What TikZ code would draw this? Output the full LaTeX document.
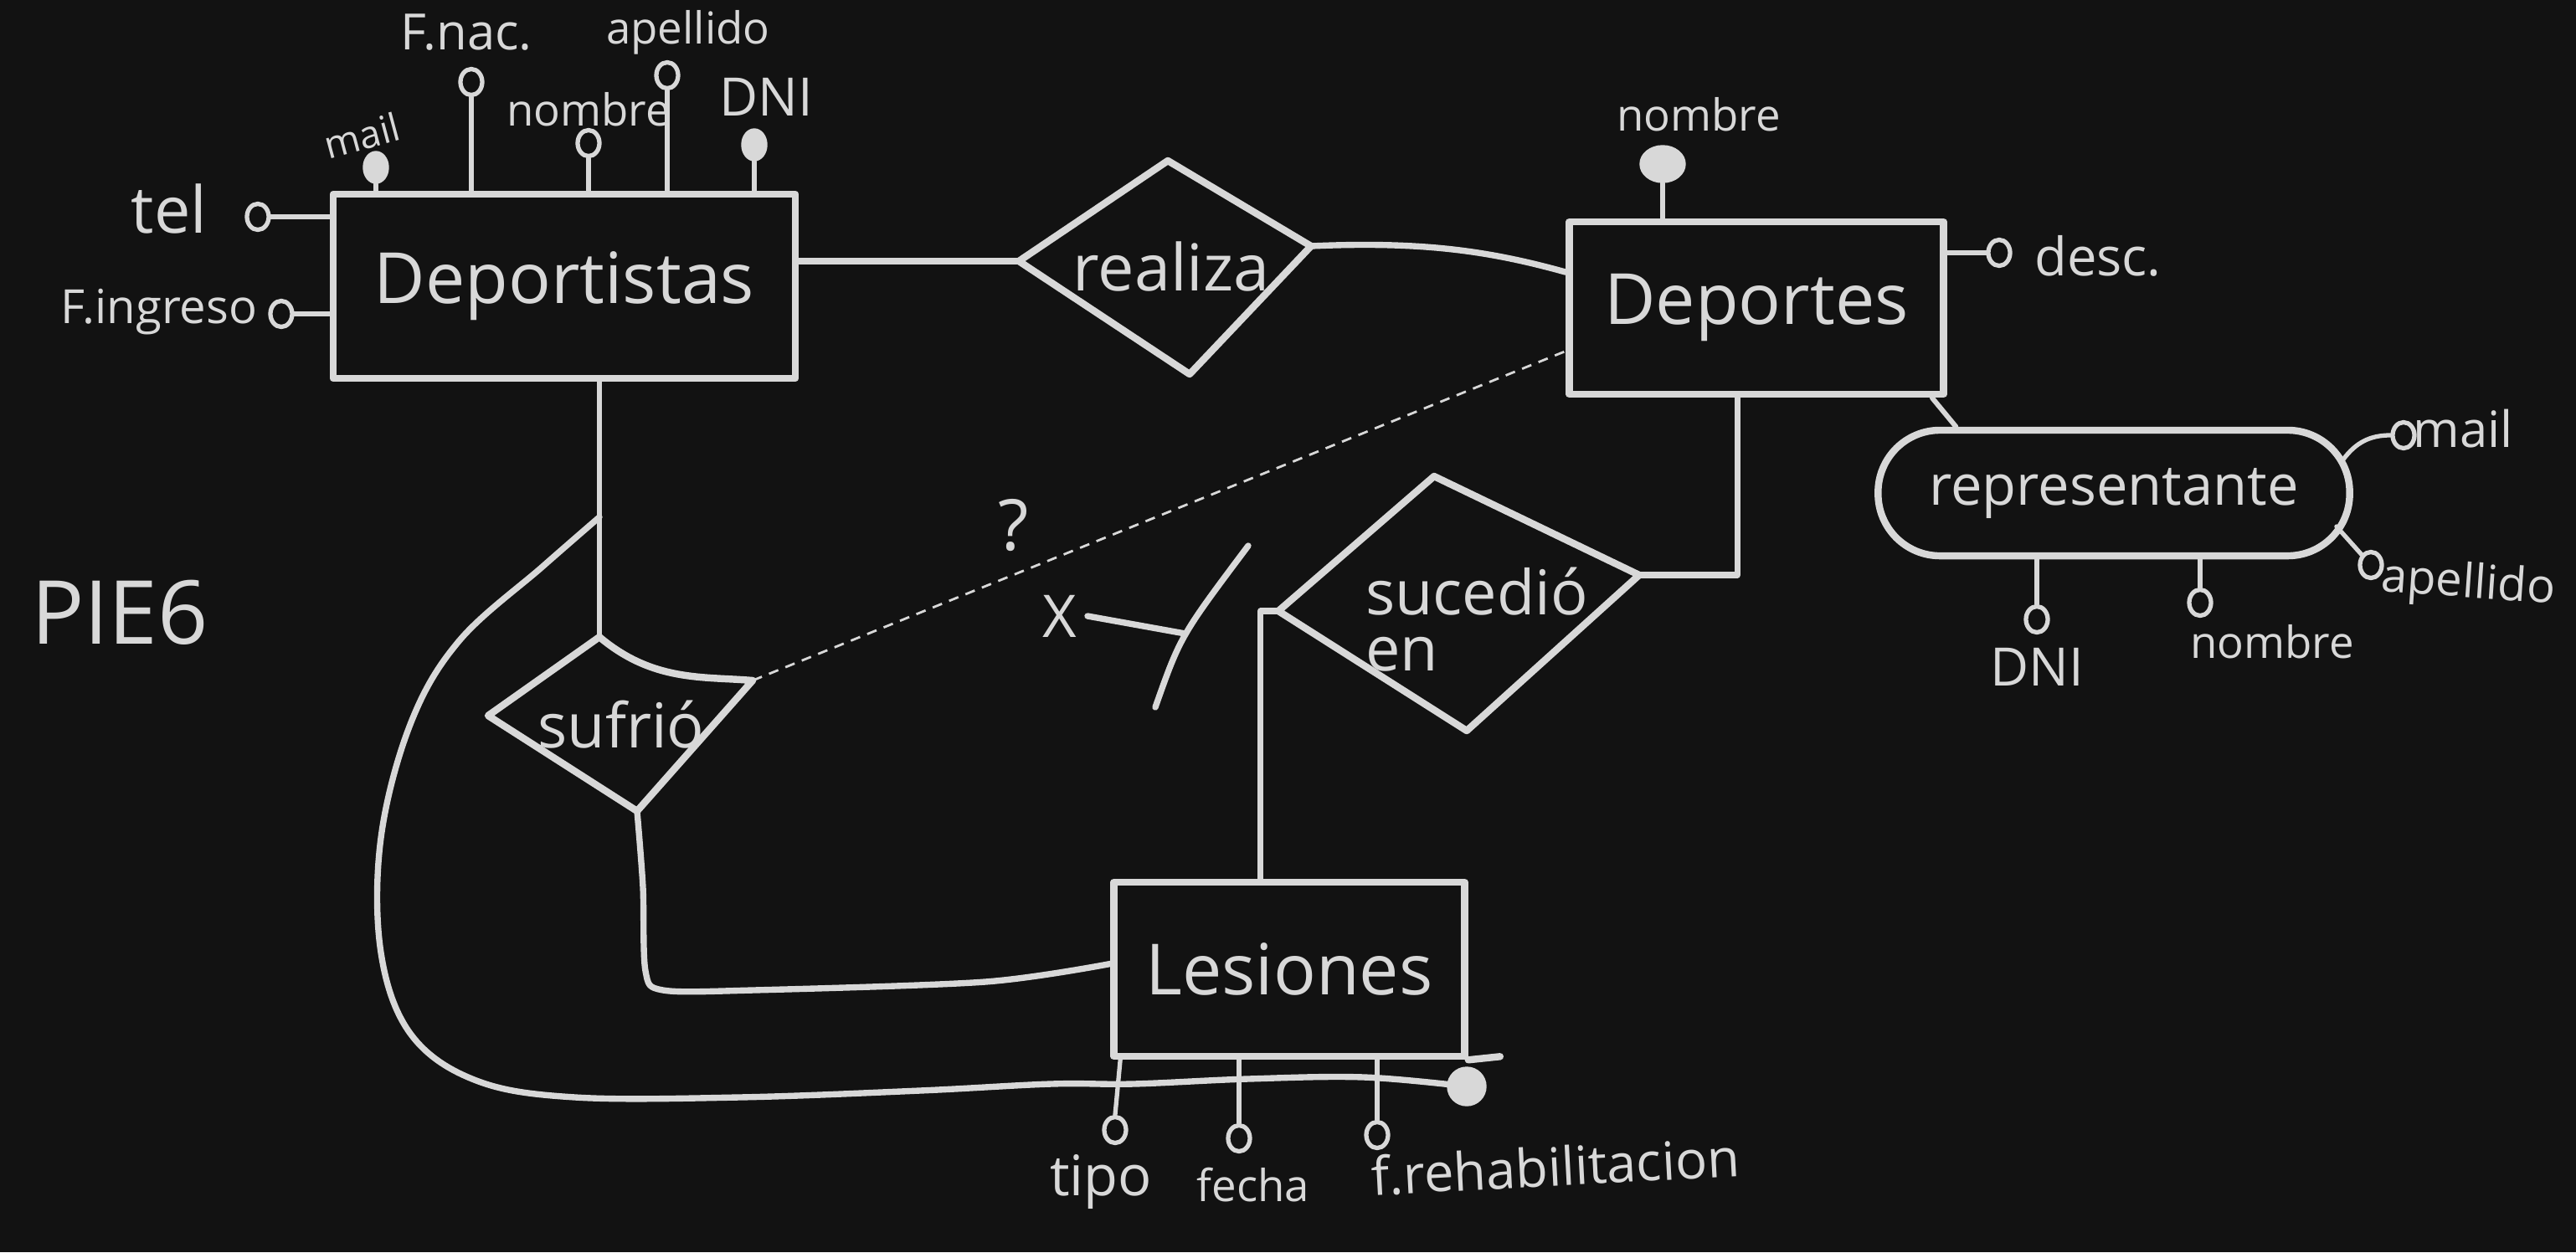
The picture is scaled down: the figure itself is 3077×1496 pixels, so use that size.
\documentclass[tikz,border=0pt]{standalone}
\usepackage{fontspec}
\setmainfont{Open Sans}
\usetikzlibrary{calc,shapes.geometric}
\definecolor{bgc}{HTML}{121212}
\definecolor{chalk}{HTML}{D8D8D8}
\newcommand\setfs[1]{\fontsize{#1}{#1}\selectfont}
\begin{document}
\begin{tikzpicture}[x=0.01cm,y=-0.01cm,
  boxline/.style={draw=chalk,line width=2.4pt,line cap=round,line join=round},
  conn/.style={draw=chalk,line width=2.1pt,line cap=round,line join=round},
  stem/.style={draw=chalk,line width=1.5pt,line cap=round},
  dashline/.style={draw=chalk,line width=0.8pt,dash pattern=on 3.4pt off 2.6pt},
  entity/.style={boxline,rectangle,inner sep=0pt,text=chalk,font=\setfs{24}},
  lbl/.style={text=chalk,inner sep=0pt},
  opencirc/.style={draw=chalk,line width=1.5pt,ellipse,minimum width=0.26cm,minimum height=0.31cm,inner sep=0pt},
  filledcirc/.style={draw=chalk,fill=chalk,ellipse,minimum width=0.3cm,minimum height=0.38cm,inner sep=0pt}]

\fill[bgc] (0,0) rectangle (3077,1496);
\useasboundingbox (0,0) rectangle (3077,1496);

% ---------- entities ----------
\node[entity,minimum width=5.52cm,minimum height=2.2cm] (dep) at (674,342) {Deportistas};
\node[entity,minimum width=4.47cm,minimum height=2.06cm] (dpt) at (2098,368) {Deportes};
\node[entity,minimum width=4.19cm,minimum height=2.08cm] (les) at (1540,1158) {Lesiones};
\node[boxline,rectangle,rounded corners=0.74cm,minimum width=5.63cm,minimum height=1.5cm,inner sep=0pt,text=chalk,font=\setfs{19}] (rep) at (2525,589) {representante};

% ---------- relationships ----------
\coordinate (rl) at (1217,312);
\coordinate (rt) at (1395,192);
\coordinate (rr) at (1566,294);
\coordinate (rb) at (1421,447);
\draw[boxline] (rl) -- (rt) -- (rr) -- (rb) -- cycle;
\node[lbl,font=\setfs{22}] (realiza) at (1399,318) {realiza};

\coordinate (sl) at (583,855);
\coordinate (st) at (716,761);
\coordinate (sr) at (899,813);
\coordinate (sb) at (761,969);
\draw[boxline] (sl) -- (st) .. controls (780,815) and (840,808) .. (sr) -- (sb) -- cycle;
\node[lbl,font=\setfs{21}] (sufrio) at (742,866) {sufrió};

\coordinate (cl) at (1527,730);
\coordinate (ct) at (1713,569);
\coordinate (cr) at (1958,687);
\coordinate (cb) at (1752,873);
\draw[boxline] (cl) -- (ct) -- (cr) -- (cb) -- cycle;
\node[lbl,font=\fontsize{21}{19}\selectfont,align=left] (sucedio) at (1764,740) {sucedió\\en};

% ---------- connectors ----------
\draw[conn] (dep.east |- rl) -- (rl);
\coordinate (dptW) at ($(dpt.north west)!0.3!(dpt.south west)$);
\draw[conn] (rr) .. controls (1700,288) and (1780,300) .. (dptW);

\coordinate (dptW2) at ($(dpt.north west)!0.74!(dpt.south west)$);
\draw[dashline] (sr) -- (dptW2);
\node[lbl,font=\setfs{24}] (quest) at (1211,628) {?};

\draw[stem,line width=1.7pt] (st |- dep.south) -- (st);
\coordinate (cs) at ($(st |- dep.south)!0.53!(st)$);

\node[filledcirc,minimum width=0.46cm,minimum height=0.46cm] (lesblob) at (1752,1298) {};
\draw[conn] plot[smooth,tension=0.6] coordinates {(cs) (648,677) (549,765) (491,863) (455,1001) (455,1138) (491,1236) (569,1291) (687,1311) (883,1311) (1099,1303) (1256,1295) (1354,1295) (1491,1289) (1629,1287) (lesblob)};

\coordinate (lesW) at ($(les.north west)!0.47!(les.south west)$);
\draw[conn] plot[smooth,tension=0.5] coordinates {(sb) (768,1060) (771,1160) (792,1183) (900,1183) (1177,1173) (lesW)};

\coordinate (lesT) at ($(les.north west)!0.42!(les.north east)$);
\draw[conn] (lesT) -- (lesT |- cl) -- (cl);

\coordinate (dptS) at ($(dpt.south west)!0.45!(dpt.south east)$);
\draw[conn] (cr) -- (dptS |- cr) -- (dptS);

\coordinate (lesext) at ($(les.south east)+(38,-4)$);
\draw[boxline] (les.south east) -- (lesext);

% X mark
\node[lbl,font=\setfs{20}] (xl) at (1266,736) {X};
\coordinate (xa) at (1491,652);
\coordinate (xb) at (1380,845);
\draw[conn] (xa) .. controls (1410,760) .. (xb) coordinate[pos=0.5] (xm);
\draw[conn] (xl.east) ++(12,0) coordinate (xs) (xs) -- (xm);

% title
\node[lbl,font=\setfs{30}] (title) at (143,732) {PIE6};

% ---------- Deportistas attributes ----------
\node[filledcirc] (dmail) at (449,200) {};
\draw[stem] (dmail) -- (dmail |- dep.north);
\node[lbl,font=\setfs{13},rotate=15] (dmailt) at (432,162) {mail};

\node[opencirc] (dfnac) at (563,98) {};
\draw[stem] (dfnac.south) -- (dfnac |- dep.north);
\node[lbl,font=\setfs{17}] (dfnact) at (557,39) {F.nac.};

\node[opencirc] (dnom) at (703,171) {};
\draw[stem] (dnom.south) -- (dnom |- dep.north);
\node[lbl,font=\setfs{15}] (dnomt) at (703,131) {nombre};

\node[opencirc] (dape) at (797,90) {};
\draw[stem] (dape.south) -- (dape |- dep.north);
\node[lbl,font=\setfs{15}] (dapet) at (822,39) {apellido};

\node[filledcirc] (ddni) at (901,173) {};
\draw[stem] (ddni) -- (ddni |- dep.north);
\node[lbl,font=\setfs{18}] (ddnit) at (915,116) {DNI};

\node[opencirc] (dtel) at (308,259) {};
\draw[stem] (dtel.east) -- (dtel -| dep.west);
\node[lbl,font=\setfs{22}] (dtelt) at (202,249) {tel};

\node[opencirc] (ding) at (336,375) {};
\draw[stem] (ding.east) -- (ding -| dep.west);
\node[lbl,font=\setfs{16}] (dingt) at (190,373) {F.ingreso};

% ---------- Deportes attributes ----------
\node[filledcirc,minimum width=0.54cm,minimum height=0.44cm] (pnom) at (1986,196) {};
\draw[stem] (pnom) -- (pnom |- dpt.north);
\node[lbl,font=\setfs{15}] (pnomt) at (2029,137) {nombre};

\node[opencirc] (pdesc) at (2388,302) {};
\draw[stem] (pdesc.west) -- (pdesc -| dpt.east);
\node[lbl,font=\setfs{18}] (pdesct) at (2506,306) {desc.};

\coordinate (dptSE) at ($(dpt.south east)+(-18,0)$);
\coordinate (repNW) at ($(rep.north west)!0.17!(rep.north east)$);
\draw[stem,line width=1.7pt] (dptSE) -- (repNW);

% ---------- representante attributes ----------
\node[opencirc] (rmail) at (2871,520) {};
\coordinate (repE1) at ($(rep.east)+(-12,-40)$);
\draw[stem] (repE1) .. controls +(15,-20) and +(-25,0) .. (rmail.west);
\node[lbl,font=\setfs{17}] (rmailt) at (2942,512) {mail};

\node[opencirc] (rape) at (2832,675) {};
\coordinate (repE2) at ($(rep.east)+(-20,40)$);
\draw[stem] (repE2) -- (rape);
\node[lbl,font=\setfs{16},rotate=-4] (rapet) at (2948,699) {apellido};

\node[opencirc] (rdni) at (2433,740) {};
\draw[stem] (rdni.north) -- (rdni |- rep.south);
\node[lbl,font=\setfs{18}] (rdnit) at (2433,797) {DNI};

\node[opencirc] (rnom) at (2628,720) {};
\draw[stem] (rnom.north) -- (rnom |- rep.south);
\node[lbl,font=\setfs{15}] (rnomt) at (2714,767) {nombre};

% ---------- Lesiones attributes ----------
\node[opencirc] (ltipo) at (1332,1350) {};
\draw[stem] (ltipo.north) -- ($(les.south west)+(12,0)$);
\node[lbl,font=\setfs{19}] (ltipot) at (1315,1412) {tipo};

\node[opencirc] (lfecha) at (1480,1360) {};
\draw[stem] (lfecha.north) -- (lfecha |- les.south);
\node[lbl,font=\setfs{15}] (lfechat) at (1497,1416) {fecha};

\node[opencirc] (lreh) at (1645,1356) {};
\draw[stem] (lreh.north) -- (lreh |- les.south);
\node[lbl,font=\setfs{18},rotate=3] (lreht) at (1858,1393) {f.rehabilitacion};

\end{tikzpicture}
\end{document}
